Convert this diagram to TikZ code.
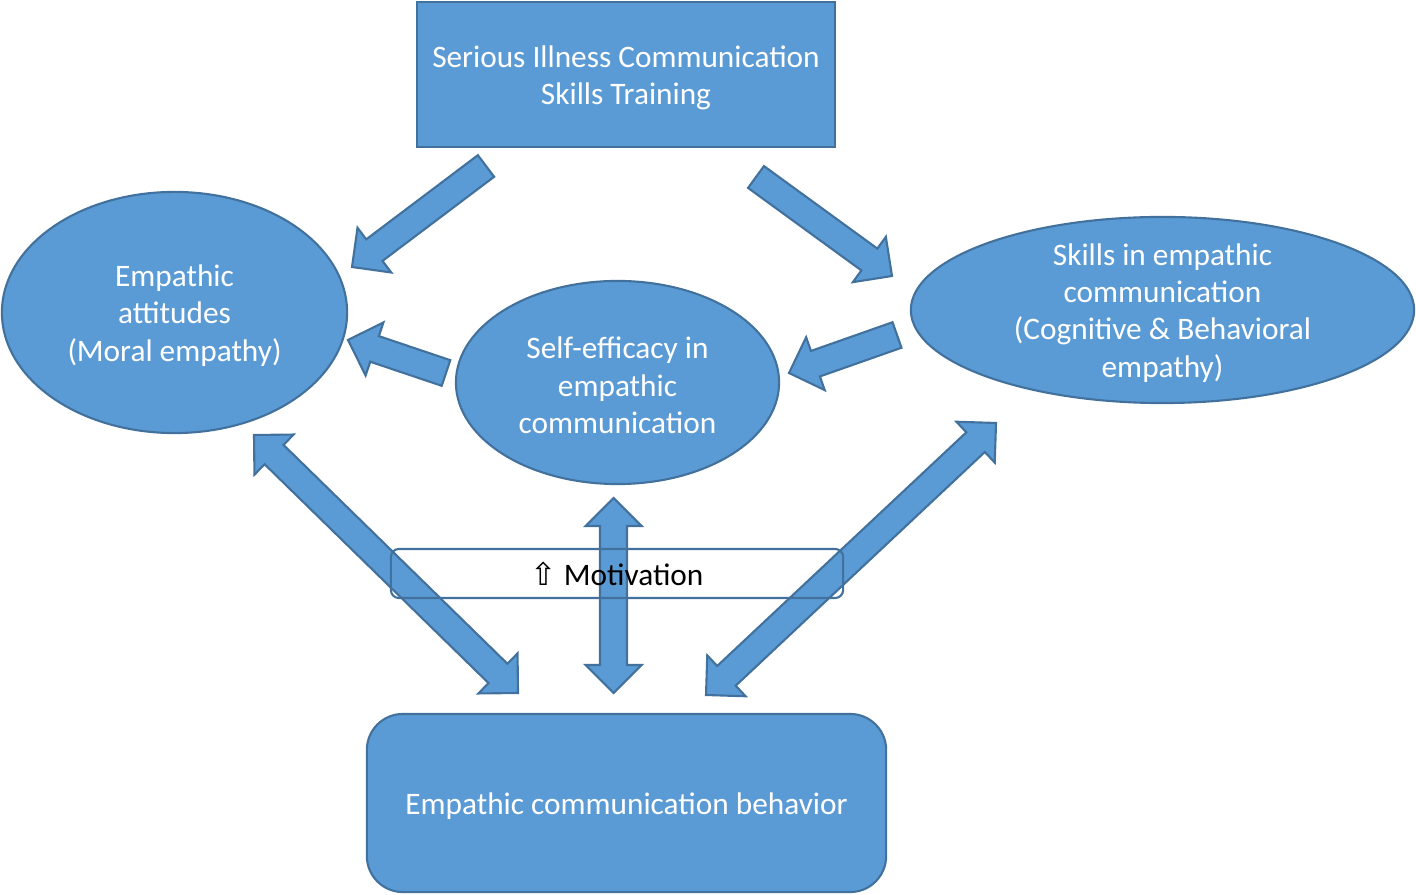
\documentclass[tikz,border=0pt]{standalone}
\usepackage{fontspec}
\setmainfont{Carlito}
\newfontfamily\arrowsym{DejaVu Sans}
\usepackage{tikz}
\usetikzlibrary{shapes.geometric, calc, positioning}
\definecolor{OfficeBlue}{HTML}{5B9BD5}
\definecolor{OfficeEdge}{HTML}{41719C}
\newcommand{\arrShaft}{0.135cm}
\newcommand{\arrHead}{0.28cm}
\newcommand{\arrLen}{0.28cm}
\tikzset{
  ovalN/.style={ellipse, draw=OfficeEdge, fill=OfficeBlue,
                line width=0.6pt, inner sep=0pt},
  boxN/.style={rectangle, draw=OfficeEdge, fill=OfficeBlue,
               line width=0.6pt, inner sep=0pt},
  inText/.style={align=center, text=white, yshift=-0.03cm,
                 font=\fontsize{8.9}{10.6}\selectfont},
  fatArrow/.style={draw=OfficeEdge, fill=OfficeBlue,
                   line width=0.6pt, line join=miter},
  motivBox/.style={rectangle, rounded corners=0.08cm, draw=OfficeEdge,
                   line width=0.6pt, minimum width=4.52cm, minimum height=0.49cm,
                   font=\fontsize{8.9}{10.6}\selectfont},
}
%% block arrow, one head: tail #1, tip #2
\newcommand{\fatArrowS}[2]{%
  \coordinate (nk) at ($(#2)!\arrLen!(#1)$);
  \draw[fatArrow] ($(#1)!\arrShaft!90:(#2)$) -- ($(nk)!\arrShaft!90:(#2)$)
    -- ($(nk)!\arrHead!90:(#2)$) -- (#2) -- ($(nk)!\arrHead!-90:(#2)$)
    -- ($(nk)!\arrShaft!-90:(#2)$) -- ($(#1)!\arrShaft!-90:(#2)$) -- cycle;
}
%% block arrow, two heads
\newcommand{\fatArrowD}[2]{%
  \coordinate (nkA) at ($(#1)!\arrLen!(#2)$);
  \coordinate (nkB) at ($(#2)!\arrLen!(#1)$);
  \draw[fatArrow] (#1) -- ($(nkA)!\arrHead!90:(#2)$) -- ($(nkA)!\arrShaft!90:(#2)$)
    -- ($(nkB)!\arrShaft!90:(#2)$) -- ($(nkB)!\arrHead!90:(#2)$) -- (#2)
    -- ($(nkB)!\arrHead!-90:(#2)$) -- ($(nkB)!\arrShaft!-90:(#2)$)
    -- ($(nkA)!\arrShaft!-90:(#2)$) -- ($(nkA)!\arrHead!-90:(#2)$) -- cycle;
}

\begin{document}
\begin{tikzpicture}[x=0.01cm, y=-0.01cm]
    \useasboundingbox (0,0) rectangle (1416,895);
    %% Boxes and ovals
    \node[boxN, minimum width=4.18cm, minimum height=1.45cm,
      label={[inText]center:Serious Illness Communication\\Skills Training}]
      (training) at (626,74.5) {};
    \node[ovalN, minimum width=3.45cm, minimum height=2.41cm,
      label={[inText]center:Empathic\\attitudes\\(Moral empathy)}]
      (attitudes) at (174.5,312.5) {};
    \node[ovalN, minimum width=3.23cm, minimum height=2.03cm,
      label={[inText]center:Self-efficacy in\\empathic\\communication}]
      (efficacy) at (617.5,382.5) {};
    \node[ovalN, minimum width=5.03cm, minimum height=1.86cm,
      label={[inText]center:Skills in empathic\\communication\\(Cognitive \& Behavioral\\empathy)}]
      (skills) at (1162.5,310) {};
    \node[boxN, rounded corners=0.36cm, minimum width=5.19cm, minimum height=1.78cm,
      label={[inText]center:Empathic communication behavior}]
      (behavior) at (626.5,803) {};
    %% arrow ends
    \coordinate (trL) at (486,166);   \coordinate (attT) at (352,267);
    \coordinate (trR) at (756,177);   \coordinate (skT) at (892,276);
    \coordinate (efL) at (446,373);   \coordinate (attR) at (348,340);
    \coordinate (skL) at (897,335);   \coordinate (efR) at (789,373);
    \coordinate (attB) at (254,435);  \coordinate (behL) at (518,693);
    \coordinate (efB) at (613.5,498); \coordinate (behM) at (613.5,693);
    \coordinate (skB) at (996,423);   \coordinate (behR) at (706,695);
    %% arrows
    \fatArrowS{trL}{attT}
    \fatArrowS{trR}{skT}
    \fatArrowS{efL}{attR}
    \fatArrowS{skL}{efR}
    \fatArrowD{attB}{behL}
    \fatArrowD{efB}{behM}
    \fatArrowD{skB}{behR}
    %% motivation
    \node[motivBox] (motiv) at (617,573.5) {{\arrowsym ⇧}\ Motivation};
  \end{tikzpicture}
\end{document}
